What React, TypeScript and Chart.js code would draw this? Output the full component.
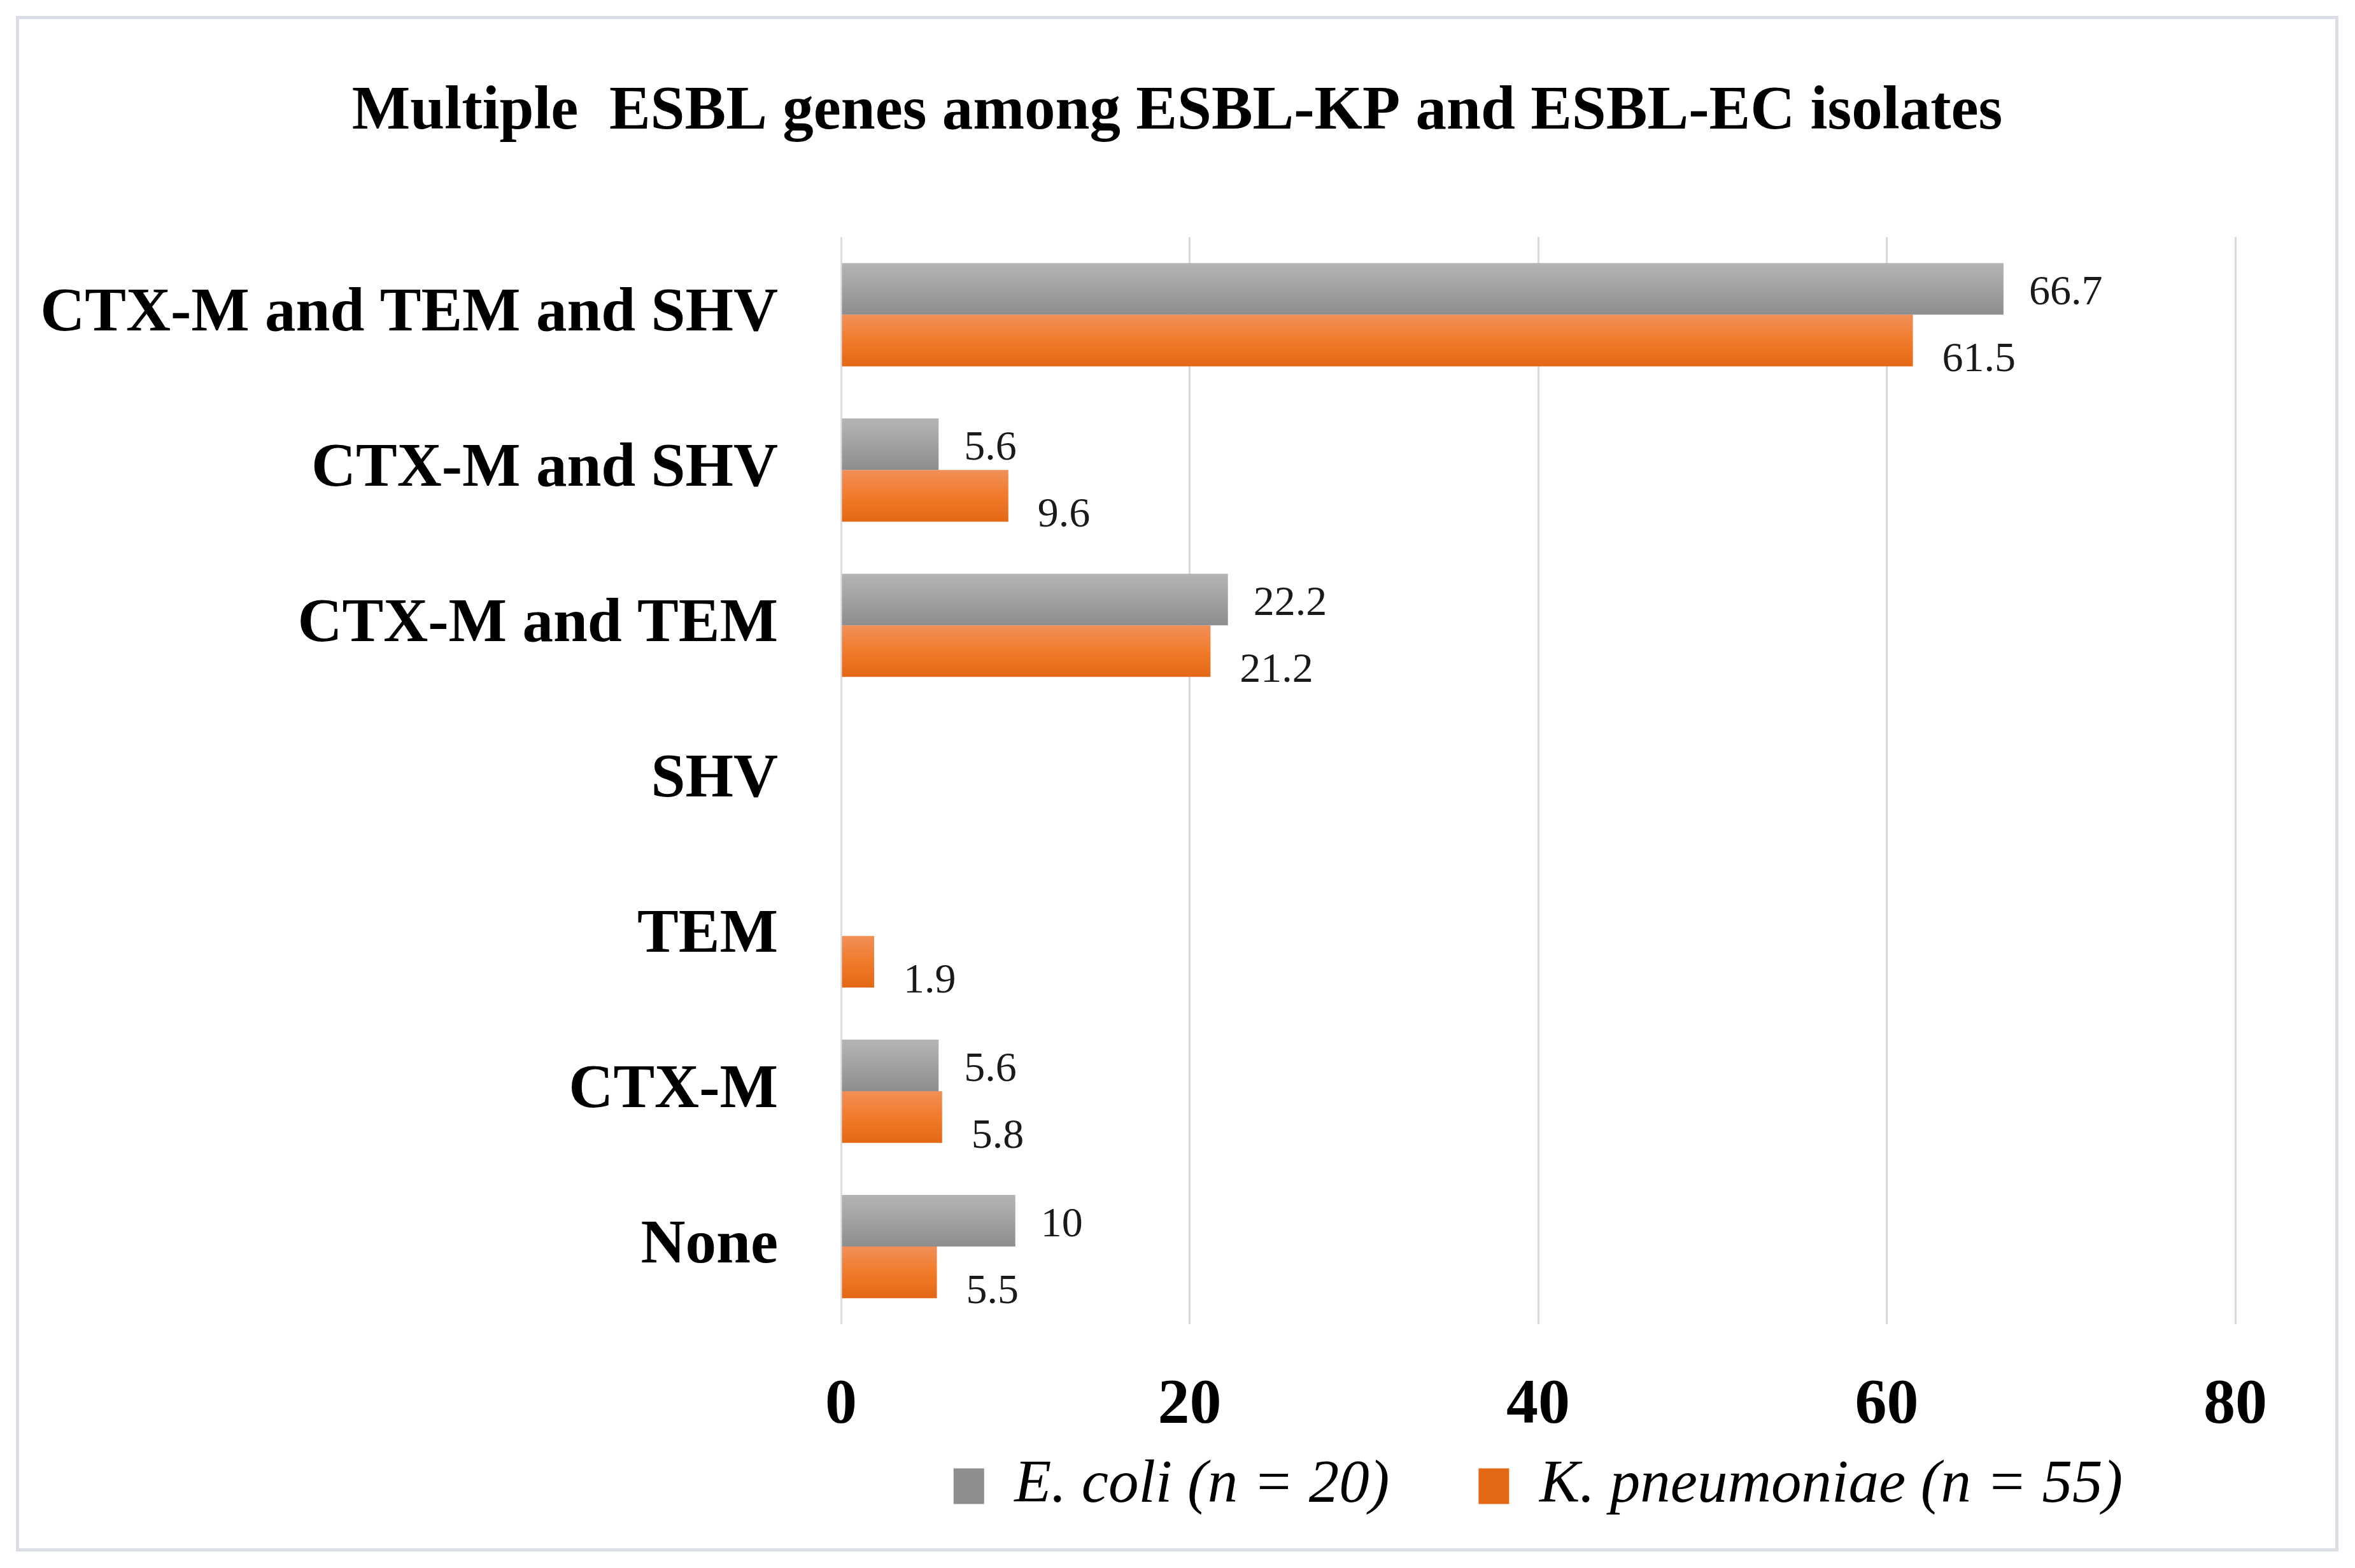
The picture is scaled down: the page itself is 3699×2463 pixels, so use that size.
import React, { useEffect, useRef } from "react";
import { Chart, registerables } from "chart.js";

Chart.register(...registerables);

// ---------- data ----------
const titleText = "Multiple  ESBL genes among ESBL-KP and ESBL-EC isolates";
const categories = [
  "CTX-M and TEM and SHV",
  "CTX-M and SHV",
  "CTX-M and TEM",
  "SHV",
  "TEM",
  "CTX-M",
  "None",
];
const ecoliValues: (number | null)[] = [66.7, 5.6, 22.2, null, null, 5.6, 10];
const kpneumoniaeValues: (number | null)[] = [61.5, 9.6, 21.2, null, 1.9, 5.8, 5.5];
const seriesLabels = ["E. coli (n = 20)", "K. pneumoniae (n = 55)"];
const xTickValues = [0, 20, 40, 60, 80];

// ---------- styles ----------
const SERIF = "'Liberation Serif', 'Times New Roman', serif";
const CAT_PCT = 0.665;
const grayStops: [number, string][] = [
  [0, "#b4b4b4"],
  [0.5, "#a2a2a2"],
  [1, "#8e8e8e"],
];
const orangeStops: [number, string][] = [
  [0, "#f18f58"],
  [0.5, "#f17b2b"],
  [1, "#e36815"],
];
const LABEL_OFFSETS = [
  { dx: 40, dy: 7 },
  { dx: 46, dy: 31 },
];

function barGradient(stops: [number, string][], dsIndex: number) {
  return (ctx: any) => {
    const chart = ctx.chart;
    if (ctx.type !== "data") return stops[1][1];
    const y = chart.scales && chart.scales.y;
    if (!y || !isFinite(y.top) || !isFinite(y.bottom)) return stops[1][1];
    const center = y.getPixelForValue(ctx.dataIndex);
    const band = ((y.bottom - y.top) / categories.length) * CAT_PCT;
    const top = dsIndex === 0 ? center - band / 2 : center;
    const g = chart.ctx.createLinearGradient(0, top, 0, top + band / 2);
    stops.forEach(([o, c]) => g.addColorStop(o, c));
    return g;
  };
}

const valueLabelPlugin = {
  id: "valueLabels",
  afterDatasetsDraw(chart: any) {
    const ctx = chart.ctx;
    ctx.save();
    ctx.font = `66px ${SERIF}`;
    ctx.fillStyle = "#1a1a1a";
    ctx.textAlign = "left";
    ctx.textBaseline = "middle";
    chart.data.datasets.forEach((ds: any, di: number) => {
      const meta = chart.getDatasetMeta(di);
      meta.data.forEach((el: any, i: number) => {
        const v = ds.data[i];
        if (v === null || v === undefined) return;
        const off = LABEL_OFFSETS[di];
        ctx.fillText(String(v), el.x + off.dx, el.y + off.dy);
      });
    });
    ctx.restore();
  },
};

export default function App() {
  const canvasRef = useRef<HTMLCanvasElement | null>(null);

  useEffect(() => {
    if (!canvasRef.current) return;
    const chart = new Chart(canvasRef.current, {
      type: "bar",
      data: {
        labels: categories,
        datasets: [
          {
            label: seriesLabels[0],
            data: ecoliValues,
            backgroundColor: barGradient(grayStops, 0),
            borderWidth: 0,
            categoryPercentage: CAT_PCT,
            barPercentage: 1.0,
          },
          {
            label: seriesLabels[1],
            data: kpneumoniaeValues,
            backgroundColor: barGradient(orangeStops, 1),
            borderWidth: 0,
            categoryPercentage: CAT_PCT,
            barPercentage: 1.0,
          },
        ],
      },
      options: {
        indexAxis: "y",
        animation: false,
        responsive: true,
        maintainAspectRatio: false,
        layout: { padding: { left: 0, right: 0, top: 0, bottom: 40 } },
        scales: {
          x: {
            min: 0,
            max: 80,
            afterBuildTicks: (scale: any) => {
              scale.ticks = xTickValues.map((v) => ({ value: v }));
            },
            afterFit: (scale: any) => {
              scale.height = 67;
              scale.paddingRight = 157;
            },
            grid: {
              color: (c: any) => (c.index === 0 ? "#d8dde6" : "#d9d9d9"),
              lineWidth: 3,
              drawTicks: false,
            },
            border: { display: false },
            ticks: {
              mirror: true,
              padding: -188,
              color: "#000",
              font: { family: SERIF, size: 100, weight: "bold", lineHeight: 1.2 },
            },
          },
          y: {
            afterFit: (scale: any) => {
              scale.width = 1291;
            },
            grid: { display: false, drawTicks: false },
            border: { display: false },
            ticks: {
              padding: 99,
              color: "#000",
              font: { family: SERIF, size: 97, weight: "bold" },
            },
          },
        },
        plugins: {
          title: {
            display: true,
            text: titleText,
            color: "#000",
            font: { family: SERIF, size: 97, weight: "bold", lineHeight: 1.2 },
            padding: { top: 89, bottom: 137 },
          },
          legend: {
            display: true,
            position: "bottom",
            fullSize: false,
            labels: {
              color: "#000",
              boxWidth: 48,
              boxHeight: 56,
              padding: 140,
              font: { family: SERIF, size: 95, style: "italic" },
            },
          },
          tooltip: { enabled: false },
        },
      },
      plugins: [valueLabelPlugin],
    } as any);
    return () => chart.destroy();
  }, []);

  return (
    <div style={{ position: "fixed", left: 0, top: 0, width: 3699, height: 2463, background: "#fff" }}>
      <div
        style={{
          position: "absolute",
          left: 25,
          top: 25,
          width: 3648,
          height: 2412,
          boxSizing: "border-box",
          border: "5px solid #dadee4",
          background: "#fff",
        }}
      >
        <div style={{ position: "absolute", left: 0, top: 0, width: 3638, height: 2402 }}>
          <canvas ref={canvasRef} />
        </div>
      </div>
    </div>
  );
}
